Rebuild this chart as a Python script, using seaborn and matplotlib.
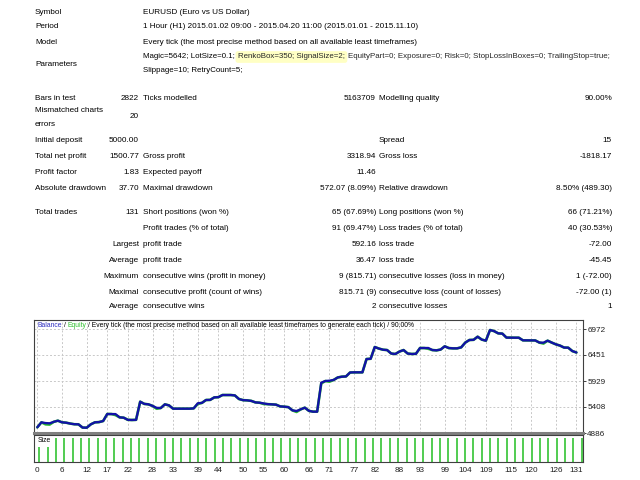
import numpy as np
import pandas as pd
import seaborn as sns
import matplotlib.pyplot as plt

# ---- report text ----
symbol = "EURUSD (Euro vs US Dollar)"
period = "1 Hour (H1) 2015.01.02 09:00 - 2015.04.20 11:00 (2015.01.01 - 2015.11.10)"
model = "Every tick (the most precise method based on all available least timeframes)"
params_a = "Magic=5642; LotSize=0.1;"
params_hl = "RenkoBox=350; SignalSize=2;"
params_b = "EquityPart=0; Exposure=0; Risk=0; StopLossInBoxes=0; TrailingStop=true;"
params_c = "Slippage=10; RetryCount=5;"

# rows: (y, col1 label, col1 value, col2 label, col2 value, col3 label, col3 value)
stat_rows = [
    (98, "Bars in test", "2822", "Ticks modelled", "5163709", "Modelling quality", "90.00%"),
    (141, "Initial deposit", "5000.00", "", "", "Spread", "15"),
    (157, "Total net profit", "1500.77", "Gross profit", "3318.94", "Gross loss", "-1818.17"),
    (173, "Profit factor", "1.83", "Expected payoff", "11.46", "", ""),
    (189, "Absolute drawdown", "37.70", "Maximal drawdown", "572.07 (8.09%)", "Relative drawdown", "8.50% (489.30)"),
    (212, "Total trades", "131", "Short positions (won %)", "65 (67.69%)", "Long positions (won %)", "66 (71.21%)"),
    (228, "", "", "Profit trades (% of total)", "91 (69.47%)", "Loss trades (% of total)", "40 (30.53%)"),
]
# rows where the first column label is right-aligned
trade_rows = [
    (244, "Largest", "profit trade", "592.16", "loss trade", "-72.00"),
    (260, "Average", "profit trade", "36.47", "loss trade", "-45.45"),
    (276, "Maximum", "consecutive wins (profit in money)", "9 (815.71)", "consecutive losses (loss in money)", "1 (-72.00)"),
    (292, "Maximal", "consecutive profit (count of wins)", "815.71 (9)", "consecutive loss (count of losses)", "-72.00 (1)"),
    (307, "Average", "consecutive wins", "2", "consecutive losses", "1"),
]

# ---- chart data ----
trades = list(range(132))
balance = [
    5000, 5100, 5085, 5080, 5110, 5133, 5100, 5093, 5075, 5062,
    5060, 4995, 4992, 5060, 5100, 5105, 5126, 5267, 5267, 5265,
    5200, 5193, 5150, 5147, 5150, 5514, 5470, 5461, 5430, 5390,
    5387, 5461, 5440, 5374, 5374, 5374, 5374, 5374, 5380, 5482,
    5490, 5548, 5550, 5600, 5605, 5648, 5648, 5648, 5640, 5568,
    5545, 5541, 5530, 5500, 5494, 5480, 5465, 5461, 5455, 5420,
    5414, 5405, 5340, 5327, 5360, 5394, 5330, 5314, 5314, 5895,
    5929, 5935, 5950, 6000, 6016, 6020, 6100, 6103, 6103, 6103,
    6370, 6375, 6611, 6580, 6557, 6550, 6480, 6471, 6520, 6550,
    6480, 6471, 6475, 6591, 6591, 6591, 6550, 6544, 6560, 6625,
    6590, 6584, 6584, 6604, 6700, 6752, 6755, 6818, 6760, 6738,
    6952, 6930, 6885, 6880, 6800, 6798, 6798, 6798, 6745, 6745,
    6745, 6743, 6700, 6698, 6738, 6700, 6665, 6640, 6600, 6598,
    6530, 6501,
]
equity = [
    5000, 5100, 5060, 5055, 5110, 5133, 5100, 5093, 5075, 5062,
    5060, 4995, 4992, 5060, 5100, 5105, 5126, 5267, 5267, 5245,
    5200, 5193, 5150, 5147, 5150, 5514, 5470, 5461, 5430, 5372,
    5387, 5461, 5440, 5374, 5374, 5374, 5374, 5374, 5380, 5468,
    5490, 5548, 5550, 5600, 5605, 5648, 5648, 5648, 5640, 5568,
    5545, 5541, 5530, 5500, 5494, 5468, 5465, 5461, 5455, 5420,
    5414, 5405, 5340, 5308, 5360, 5394, 5330, 5314, 5314, 5880,
    5929, 5915, 5950, 6000, 6016, 6020, 6100, 6103, 6103, 6103,
    6370, 6375, 6611, 6580, 6557, 6550, 6480, 6471, 6520, 6550,
    6480, 6471, 6475, 6591, 6591, 6575, 6550, 6544, 6560, 6625,
    6590, 6584, 6584, 6604, 6700, 6752, 6755, 6818, 6760, 6738,
    6952, 6930, 6885, 6880, 6800, 6798, 6798, 6798, 6745, 6745,
    6745, 6743, 6700, 6680, 6738, 6700, 6665, 6640, 6600, 6598,
    6530, 6501,
]
lot_sizes = [
    0.06, 0.06, 0.1, 0.1, 0.1, 0.1, 0.1, 0.1, 0.1, 0.1, 0.1,
    0.1, 0.1, 0.1, 0.1, 0.1, 0.1, 0.1, 0.1, 0.1, 0.1, 0.1,
    0.1, 0.1, 0.1, 0.1, 0.1, 0.1, 0.1, 0.1, 0.1, 0.1, 0.1,
    0.1, 0.1, 0.1, 0.1, 0.1, 0.1, 0.1, 0.1, 0.1, 0.1, 0.1,
    0.1, 0.1, 0.1, 0.1, 0.1, 0.1, 0.1, 0.1, 0.1, 0.1, 0.1,
    0.1, 0.1, 0.1, 0.1, 0.1, 0.1, 0.1, 0.1, 0.1, 0.1, 0.1,
]
x_ticks = [0, 6, 12, 17, 22, 28, 33, 39, 44, 50, 55, 60, 66, 71, 77, 82, 88, 93, 99, 104, 109, 115, 120, 126, 131]
y_ticks = [4886, 5408, 5929, 6451, 6972]
chart_title = "/ Every tick (the most precise method based on all available least timeframes to generate each tick) / 90.00%"

df = pd.DataFrame({"trade": trades, "balance": balance, "equity": equity})

sns.set_style("white")
plt.rcParams['font.family'] = ['Liberation Sans', 'DejaVu Sans']
FS = 5.85
FS_PARAMS = 5.7
FS_CHART = 4.9

fig = plt.figure(figsize=(6.4, 4.8), dpi=100)

# background axes in pixel coordinates for the report table
bg = fig.add_axes([0, 0, 1, 1])
bg.set_xlim(0, 640)
bg.set_ylim(480, 0)
bg.axis('off')


def put(x, y, s, ha='left', fs=FS, **kw):
    return bg.text(x, y, s, ha=ha, va='center', fontsize=fs, color='black', **kw)


put(35, 12, "Symbol"); put(143, 12, symbol)
put(35, 27, "Period"); put(143, 27, period)
put(35, 42, "Model"); put(143, 42, model)
put(35, 64, "Parameters")
t = put(143, 57, params_a, fs=FS_PARAMS)
t = bg.annotate(params_hl, xy=(1, 0), xycoords=t, xytext=(2.2, 0), textcoords='offset points',
                va='bottom', fontsize=FS_PARAMS,
                bbox=dict(boxstyle='round,pad=0.3', fc='#ffffc4', ec='none'))
bg.annotate(params_b, xy=(1, 0), xycoords=t, xytext=(2.2, 0), textcoords='offset points',
            va='bottom', fontsize=FS_PARAMS)
put(143, 70, params_c, fs=FS_PARAMS)

for y, l1, v1, l2, v2, l3, v3 in stat_rows:
    put(35, y, l1); put(139, y, v1, ha='right')
    put(143, y, l2); put(376, y, v2, ha='right')
    put(379, y, l3); put(612, y, v3, ha='right')
put(35, 111, "Mismatched charts"); put(35, 124, "errors"); put(139, 117, "20", ha='right')

for y, l1, l2, v2, l3, v3 in trade_rows:
    put(139, y, l1, ha='right')
    put(143, y, l2); put(376, y, v2, ha='right')
    put(379, y, l3); put(612, y, v3, ha='right')

# ---- balance chart ----
ax = fig.add_axes([34 / 640, 1 - 433 / 480, 549 / 640, 113 / 480])
sns.lineplot(data=df, x="trade", y="equity", ax=ax, color="#2cbf2c", lw=1.9)
sns.lineplot(data=df, x="trade", y="balance", ax=ax, color="#1212a6", lw=1.7)
ax.set_xlim(-0.8, 132.6)
ax.set_ylim(4886, 7153)
ax.set_xticks(x_ticks)
ax.set_xticklabels([])
ax.tick_params(axis='x', length=0)
ax.yaxis.tick_right()
ax.set_yticks(y_ticks)
ax.set_yticklabels([str(v) for v in y_ticks])
ax.tick_params(axis='y', length=2, width=0.6, pad=1, labelsize=FS, colors='#202020')
ax.grid(True, ls=(0, (2, 2)), color='#c8c8c8', lw=0.7)
ax.set_xlabel("")
ax.set_ylabel("")
for s in ax.spines.values():
    s.set_color('#404040')
    s.set_linewidth(0.8)
ax.spines['bottom'].set_color('#808080')
ax.spines['bottom'].set_linewidth(2.2)

tt = ax.text(0.006, 0.955, "Balance", transform=ax.transAxes, fontsize=FS_CHART, color='#3030c0', va='center')
tt = ax.annotate("/", xy=(1, 0), xycoords=tt, xytext=(1.3, 0), textcoords='offset points',
                 va='bottom', fontsize=FS_CHART, color='black')
tt = ax.annotate("Equity", xy=(1, 0), xycoords=tt, xytext=(1.3, 0), textcoords='offset points',
                 va='bottom', fontsize=FS_CHART, color='#30c030')
ax.annotate(chart_title, xy=(1, 0), xycoords=tt, xytext=(1.3, 0), textcoords='offset points',
            va='bottom', fontsize=FS_CHART, color='black')

# ---- size panel ----
ax2 = fig.add_axes([34 / 640, 1 - 462 / 480, 549 / 640, 27 / 480])
bar_pos = np.linspace(0.5, 132.3, len(lot_sizes))
ax2.vlines(bar_pos, 0, lot_sizes, color='#33c433', lw=1.2)
ax2.set_xlim(-0.8, 132.6)
ax2.set_ylim(0, 0.111)
ax2.set_yticks([])
ax2.set_xticks(x_ticks)
ax2.set_xticklabels([str(v) for v in x_ticks])
ax2.tick_params(axis='x', length=2, width=0.6, pad=1.5, labelsize=FS, colors='#202020')
for s in ax2.spines.values():
    s.set_color('#404040')
    s.set_linewidth(0.8)
ax2.text(0.006, 0.8, "Size", transform=ax2.transAxes, fontsize=FS_CHART, color='black', va='center')

fig.savefig("out.png", dpi=100, facecolor='white')
